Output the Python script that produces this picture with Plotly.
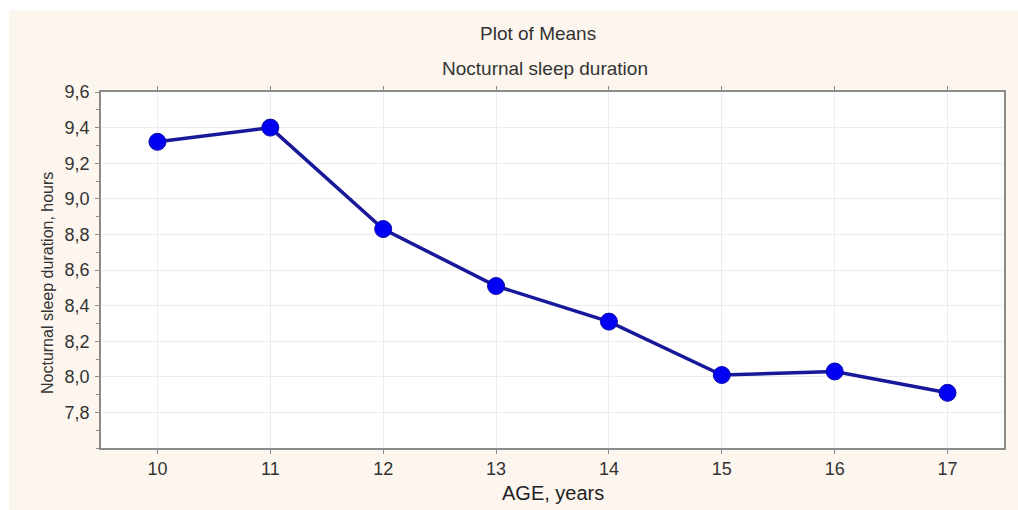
import plotly.graph_objects as go

# Mean nocturnal sleep duration by age
ages = [10, 11, 12, 13, 14, 15, 16, 17]
sleep_hours = [9.32, 9.40, 8.83, 8.51, 8.31, 8.01, 8.03, 7.91]
y_ticks = [7.8, 8.0, 8.2, 8.4, 8.6, 8.8, 9.0, 9.2, 9.4, 9.6]
y_minor = [7.6 + 0.1 * i for i in range(21)]

W, H = 1018, 510
L, R, T, B = 101, 14, 92, 62
pw, ph = W - L - R, H - T - B

def px_x(p):
    return (p - L) / pw

def px_y(p):
    return (H - B - p) / ph

FONT = "Liberation Sans, Arial, sans-serif"
AX = "#8a8a8a"

fig = go.Figure()
fig.add_trace(go.Scatter(
    x=ages, y=sleep_hours, mode="lines+markers",
    line=dict(color="#18189a", width=3.5),
    marker=dict(size=17, color="#0000f2", line=dict(color="#0a0aa8", width=1)),
    showlegend=False,
))

def label(text, x, y, size, color="#333333", angle=0):
    return dict(text=text, xref="paper", yref="paper", x=px_x(x), y=px_y(y),
                xanchor="center", yanchor="middle", showarrow=False,
                textangle=angle, font=dict(size=size, color=color))

fig.update_layout(
    width=W, height=H,
    margin=dict(l=L, r=R, t=T, b=B, pad=0),
    paper_bgcolor="#fdf6ee",
    plot_bgcolor="#ffffff",
    separators=", ",
    font=dict(family=FONT, color="#333333"),
    xaxis=dict(
        range=[9.5, 17.5], tickvals=ages, ticktext=[str(a) for a in ages],
        showline=True, linecolor=AX, linewidth=1.5, mirror="allticks",
        ticks="outside", ticklen=4, tickcolor=AX,
        showgrid=True, gridcolor="#ececec", gridwidth=1,
        zeroline=False, tickfont=dict(size=18, color="#333333"),
        ticklabelstandoff=0,
    ),
    yaxis=dict(
        range=[7.6, 9.6], tickvals=y_ticks, tickformat=".1f",
        showline=True, linecolor=AX, linewidth=1.5, mirror=True,
        ticks="outside", ticklen=4, tickcolor=AX,
        minor=dict(tickvals=y_minor, ticks="outside", ticklen=3, tickcolor=AX, showgrid=False),
        showgrid=True, gridcolor="#ececec", gridwidth=1,
        zeroline=False, tickfont=dict(size=18, color="#333333"),
        ticklabelstandoff=2,
    ),
    yaxis2=dict(
        overlaying="y", side="right", range=[7.6, 9.6],
        tickvals=y_minor, ticks="inside", ticklen=3, tickcolor=AX,
        showticklabels=False, showgrid=False, zeroline=False, showline=False,
    ),
    shapes=[
        # white page margin on the left and top
        dict(type="rect", xref="paper", yref="paper", layer="below",
             x0=px_x(-2), x1=px_x(9), y0=px_y(H + 2), y1=px_y(-2),
             fillcolor="#ffffff", line=dict(width=0)),
        dict(type="rect", xref="paper", yref="paper", layer="below",
             x0=px_x(-2), x1=px_x(W + 2), y0=px_y(10), y1=px_y(-2),
             fillcolor="#ffffff", line=dict(width=0)),
    ],
    annotations=[
        label("Plot of Means", 538, 34, 19),
        label("Nocturnal sleep duration", 545, 69, 19),
        label("AGE, years", 553, 493, 20, "#222222"),
        label("Nocturnal sleep duration, hours", 47, 283, 16, angle=-90),
    ],
)

fig.write_html("out.html")
